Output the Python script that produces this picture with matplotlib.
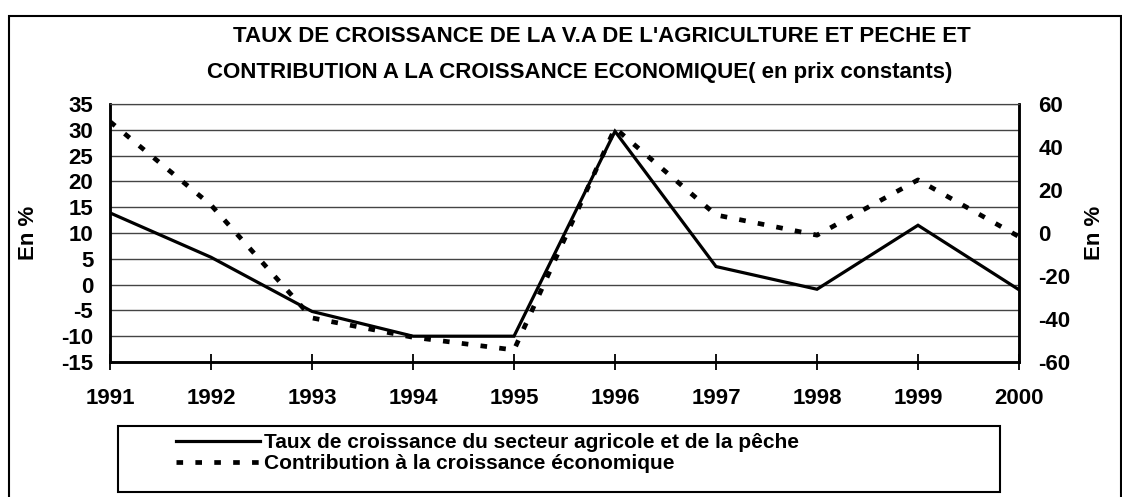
import matplotlib
matplotlib.use('Agg')
import matplotlib.pyplot as plt
from matplotlib.patches import Rectangle

plt.rcParams['font.family'] = ['Liberation Sans', 'DejaVu Sans']
plt.rcParams['font.weight'] = 'bold'
plt.rcParams['axes.unicode_minus'] = False

# Data
years = [1991, 1992, 1993, 1994, 1995, 1996, 1997, 1998, 1999, 2000]
growth_agri = [13.9, 5.3, -5.2, -10.0, -10.0, 29.7, 3.5, -0.9, 11.5, -1.0]
contrib_growth = [51.8, 13.0, -39.5, -48.5, -54.4, 48.8, 8.4, -1.0, 24.7, -1.7]

left_ticks = [-15, -10, -5, 0, 5, 10, 15, 20, 25, 30, 35]
right_ticks = [-60, -40, -20, 0, 20, 40, 60]

title_1 = "TAUX DE CROISSANCE DE LA V.A DE L'AGRICULTURE ET PECHE ET"
title_2 = "CONTRIBUTION A LA CROISSANCE ECONOMIQUE( en prix constants)"
label_agri = "Taux de croissance du secteur agricole et de la pêche"
label_contrib = "Contribution à la croissance économique"

W, H = 1122, 497
fig = plt.figure(figsize=(W / 100, H / 100), dpi=100)

# outer frame of the chart
fig.patches.append(Rectangle((9 / W, -0.01), (W - 10) / W, (H - 16) / H + 0.01,
                             transform=fig.transFigure, fill=False,
                             edgecolor='black', linewidth=1.5))

ax = fig.add_axes([110 / W, (H - 362) / H, (1019 - 110) / W, (362 - 104) / H])
ax2 = ax.twinx()

ax.plot(years, growth_agri, color='black', linewidth=2.3, solid_joinstyle='miter')
ax2.plot(years, contrib_growth, color='black', linewidth=3.4,
         linestyle=(0, (1.4, 2.6)))

ax.set_xlim(1991, 2000)
ax.set_ylim(-15, 35)
ax2.set_ylim(-60, 60)
ax.set_xticks(years)
ax.set_yticks(left_ticks)
ax2.set_yticks(right_ticks)

ax.grid(axis='y', color='#444444', linewidth=1.0)
ax.set_axisbelow(True)

for sp in ['left', 'bottom', 'right']:
    ax.spines[sp].set_linewidth(1.8)
    ax2.spines[sp].set_linewidth(1.8)
for a in (ax, ax2):
    a.spines['top'].set_linewidth(0.8)
    a.spines['top'].set_color('#444444')

ax.tick_params(axis='x', direction='inout', length=11, width=1.3,
               labelsize=16, pad=13)
ax.tick_params(axis='y', length=0, labelsize=16, pad=12)
ax2.tick_params(axis='y', length=0, labelsize=16, pad=14)

ax.set_ylabel("En %", fontsize=16, fontweight='bold', labelpad=16)
ax2.set_ylabel("En %", fontsize=16, fontweight='bold', rotation=90, labelpad=10)

fig.text(602 / W, 1 - 36 / H, title_1, ha='center', va='center',
         fontsize=16, fontweight='bold')
fig.text(580 / W, 1 - 72 / H, title_2, ha='center', va='center',
         fontsize=16, fontweight='bold')

# legend box
fig.patches.append(Rectangle((118 / W, (H - 492) / H), (1000 - 118) / W, (492 - 426) / H,
                             transform=fig.transFigure, fill=False,
                             edgecolor='black', linewidth=1.5))
h1 = ax.get_lines()[0]
h2 = ax2.get_lines()[0]
fig.legend([h1, h2], [label_agri, label_contrib], loc='upper left',
           bbox_to_anchor=(172 / W, 1 - 429 / H), frameon=False,
           handlelength=4.0, handletextpad=0.2,
           labelspacing=0.1, borderaxespad=0, borderpad=0.2,
           prop={'weight': 'bold', 'size': 15})

fig.savefig('out.png', dpi=100)
